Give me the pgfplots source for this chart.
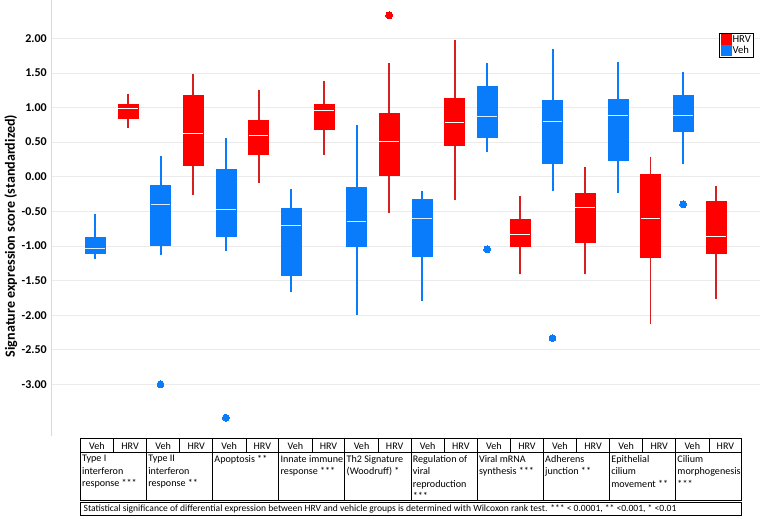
\documentclass[border=0pt]{standalone}
\usepackage{pgfplots}
\pgfplotsset{compat=1.18}
\usepgfplotslibrary{statistics}
\usepackage{fontspec}
\setmainfont{Carlito}

\definecolor{hrvred}{RGB}{255,0,0}
\definecolor{hrvdark}{RGB}{214,32,32}
\definecolor{vehblue}{RGB}{8,124,250}

\pgfplotsset{
  hrv/.style={draw=hrvred, fill=hrvred, line width=0.4pt,
    boxplot/every whisker/.style={draw=hrvdark, line width=1.5pt},
    boxplot/every median/.style={draw=white, line width=0.75pt}},
  veh/.style={draw=vehblue, fill=vehblue, line width=0.4pt,
    boxplot/every whisker/.style={draw=vehblue, line width=1.5pt},
    boxplot/every median/.style={draw=white!85!vehblue, line width=0.75pt}},
  boxplot/draw direction=y,
  boxplot/box extend=0.61,
  boxplot/whisker extend=0,
}
\newcommand{\tabfont}{\fontsize{7.6}{9.4}\selectfont}

\begin{document}
\begin{tikzpicture}
\begin{axis}[
  scale only axis,
  width=533.25pt, height=327.75pt,
  xmin=-0.342, xmax=21.342,
  ymin=-3.741, ymax=2.547,
  boxplot/draw direction=y,
  axis lines*=left,
  x axis line style={draw=none},
  y axis line style={draw=black!15, line width=0.6pt},
  xtick=\empty,
  ytick={-3,-2.5,...,2},
  major tick length=0pt,
  ymajorgrids,
  grid style={draw=black!8, line width=0.5pt},
  yticklabel style={font=\bfseries\fontsize{9}{9}\selectfont,
    /pgf/number format/.cd, fixed, fixed zerofill, precision=2, assume math mode=true},
  ylabel={Signature expression score (standardized)},
  ylabel style={font=\bfseries\fontsize{10.6}{10.6}\selectfont, at={(rel axis cs:0,0.459)}, anchor=center, yshift=30.5pt},
  legend entries={HRV,Veh},
  legend cell align=left,
  legend style={at={(rel axis cs:0.992,0.926)}, anchor=north east, draw=black, line width=0.6pt,
    font=\fontsize{8}{8}\selectfont, inner xsep=1.5pt, inner ysep=1pt, row sep=0pt,
    nodes={inner sep=0.6pt}},
]
\addlegendimage{legend image code/.code={\fill[hrvred] (0pt,-3.8pt) rectangle (7.5pt,3.7pt);}}
\addlegendimage{legend image code/.code={\fill[vehblue] (0pt,-3.8pt) rectangle (7.5pt,3.7pt);}}

% Type I interferon response
\addplot[veh, boxplot prepared={draw position=1, lower whisker=-1.19, lower quartile=-1.11, median=-1.04, upper quartile=-0.87, upper whisker=-0.54}] coordinates {};
\addplot[hrv, boxplot prepared={draw position=2, lower whisker=0.70, lower quartile=0.84, median=0.98, upper quartile=1.04, upper whisker=1.19}] coordinates {};
% Type II interferon response
\addplot[veh, boxplot prepared={draw position=3, lower whisker=-1.13, lower quartile=-0.99, median=-0.40, upper quartile=-0.13, upper whisker=0.30}] coordinates {};
\addplot[hrv, boxplot prepared={draw position=4, lower whisker=-0.27, lower quartile=0.16, median=0.63, upper quartile=1.18, upper whisker=1.49}] coordinates {};
% Apoptosis
\addplot[veh, boxplot prepared={draw position=5, lower whisker=-1.07, lower quartile=-0.86, median=-0.47, upper quartile=0.11, upper whisker=0.56}] coordinates {};
\addplot[hrv, boxplot prepared={draw position=6, lower whisker=-0.09, lower quartile=0.33, median=0.59, upper quartile=0.82, upper whisker=1.26}] coordinates {};
% Innate immune response
\addplot[veh, boxplot prepared={draw position=7, lower whisker=-1.66, lower quartile=-1.42, median=-0.70, upper quartile=-0.46, upper whisker=-0.17}] coordinates {};
\addplot[hrv, boxplot prepared={draw position=8, lower whisker=0.32, lower quartile=0.68, median=0.95, upper quartile=1.05, upper whisker=1.39}] coordinates {};
% Th2 Signature
\addplot[veh, boxplot prepared={draw position=9, lower whisker=-1.99, lower quartile=-1.01, median=-0.65, upper quartile=-0.15, upper whisker=0.75}] coordinates {};
\addplot[hrv, boxplot prepared={draw position=10, lower whisker=-0.52, lower quartile=0.02, median=0.51, upper quartile=0.92, upper whisker=1.64}] coordinates {};
% Regulation of viral reproduction
\addplot[veh, boxplot prepared={draw position=11, lower whisker=-1.79, lower quartile=-1.15, median=-0.61, upper quartile=-0.32, upper whisker=-0.20}] coordinates {};
\addplot[hrv, boxplot prepared={draw position=12, lower whisker=-0.33, lower quartile=0.46, median=0.78, upper quartile=1.13, upper whisker=1.98}] coordinates {};
% Viral mRNA synthesis
\addplot[veh, boxplot prepared={draw position=13, lower whisker=0.36, lower quartile=0.57, median=0.87, upper quartile=1.30, upper whisker=1.64}] coordinates {};
\addplot[hrv, boxplot prepared={draw position=14, lower whisker=-1.41, lower quartile=-1.01, median=-0.83, upper quartile=-0.62, upper whisker=-0.28}] coordinates {};
% Adherens junction
\addplot[veh, boxplot prepared={draw position=15, lower whisker=-0.21, lower quartile=0.19, median=0.80, upper quartile=1.11, upper whisker=1.85}] coordinates {};
\addplot[hrv, boxplot prepared={draw position=16, lower whisker=-1.41, lower quartile=-0.94, median=-0.44, upper quartile=-0.24, upper whisker=0.14}] coordinates {};
% Epithelial cilium movement
\addplot[veh, boxplot prepared={draw position=17, lower whisker=-0.24, lower quartile=0.24, median=0.88, upper quartile=1.12, upper whisker=1.65}] coordinates {};
\addplot[hrv, boxplot prepared={draw position=18, lower whisker=-2.12, lower quartile=-1.17, median=-0.61, upper quartile=0.03, upper whisker=0.29}] coordinates {};
% Cilium morphogenesis
\addplot[veh, boxplot prepared={draw position=19, lower whisker=0.19, lower quartile=0.65, median=0.89, upper quartile=1.17, upper whisker=1.51}] coordinates {};
\addplot[hrv, boxplot prepared={draw position=20, lower whisker=-1.77, lower quartile=-1.10, median=-0.87, upper quartile=-0.36, upper whisker=-0.14}] coordinates {};

% outliers
\addplot[vehblue, only marks, mark=*, mark size=2.6pt, mark options={fill=vehblue, draw=vehblue, line width=0pt}]
  coordinates {(3,-3.00) (5,-3.48) (13,-1.05) (15,-2.33) (19,-0.40)};
\addplot[hrvred, only marks, mark=*, mark size=2.6pt, mark options={fill=hrvred, draw=hrvred, line width=0pt}]
  coordinates {(10,2.33)};
\end{axis}

% table under the plot, units are pixels of the reference
\begin{scope}[x=0.75pt, y=0.75pt, line width=0.6pt, font=\tabfont]
\foreach \g/\name in {0/{Type I\\interferon\\response ***},
                      1/{Type II\\interferon\\response **},
                      2/{Apoptosis **},
                      3/{Innate immune\\response ***},
                      4/{Th2 Signature\\(Woodruff) *},
                      5/{Regulation of\\viral\\reproduction\\***},
                      6/{Viral mRNA\\synthesis ***},
                      7/{Adherens\\junction **},
                      8/{Epithelial\\cilium\\movement **},
                      9/{Cilium\\morphogenesis\\***}} {
  \pgfmathsetmacro\L{29+66.4*\g}
  \draw (\L,-3) rectangle (\L+66.4,-65);
  \draw (\L,-17) -- (\L+66.4,-17);
  \draw (\L+33.5,-3) -- (\L+33.5,-17);
  \node[inner sep=0pt] at (\L+16.75,-10.3) {Veh};
  \node[inner sep=0pt] at (\L+50,-10.3) {HRV};
  \node[anchor=north west, align=left, inner sep=0pt] at (\L+1.5,-19) {\name};
}
\draw (29,-66.5) rectangle (693,-80);
\node[anchor=west, inner sep=0pt, font=\fontsize{7.2}{8}\selectfont] at (32,-73.4) {Statistical significance of differential expression between HRV and vehicle groups is determined with Wilcoxon rank test. *** < 0.0001, ** <0.001, * <0.01};
\path[use as bounding box] (-49,-83) rectangle (711,437);
\end{scope}
\end{tikzpicture}
\end{document}
